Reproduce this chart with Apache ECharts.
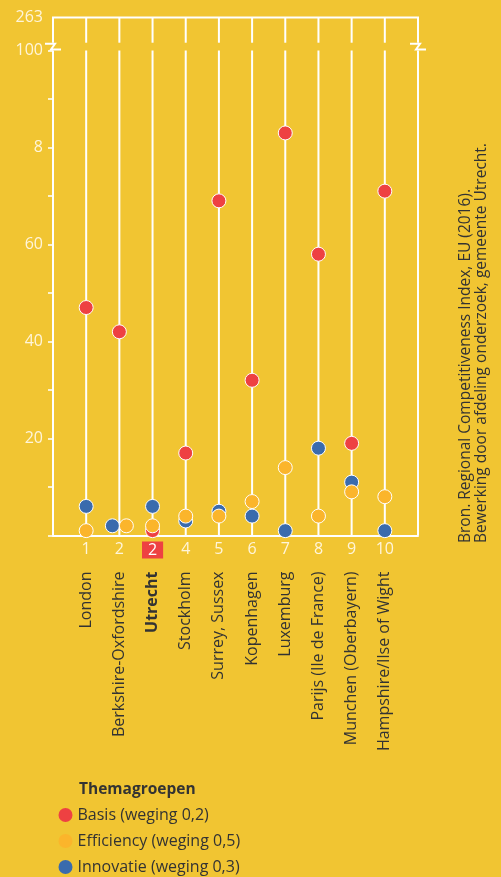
<!DOCTYPE html>
<html>
<head>
<meta charset="utf-8">
<script src="https://cdn.jsdelivr.net/npm/echarts@6/dist/echarts.min.js"></script>
<style>
html,body{margin:0;padding:0;background:#F1C532;}
#chart{width:501px;height:877px;}
</style>
</head>
<body>
<div id="chart"></div>
<script>
// ---- data ----
const categories = ['London', 'Berkshire-Oxfordshire', 'Utrecht', 'Stockholm', 'Surrey, Sussex', 'Kopenhagen', 'Luxemburg', 'Parijs (Ile de France)', 'Munchen (Oberbayern)', 'Hampshire/Ilse of Wight'];
const ranks = ['1', '2', '2', '4', '5', '6', '7', '8', '9', '10'];
const basis = [47, 42, 1, 17, 69, 32, 83, 58, 19, 71];
const efficiency = [1, 2, 2, 4, 4, 7, 14, 4, 9, 8];
const innovatie = [6, 2, 6, 3, 5, 4, 1, 18, 11, 1];
const seriesNames = ['Basis (weging 0,2)', 'Efficiency (weging 0,5)', 'Innovatie (weging 0,3)'];
const yLabelValues = [20, 40, 60, 80, 100];
const yLabelTexts = ['20', '40', '60', '8', '100'];
const yTopLabel = '263';
const sourceLines = ['Bron. Regional Competitiveness Index, EU (2016).', 'Bewerking door afdeling onderzoek, gemeente Utrecht.'];
const legendTitle = 'Themagroepen';

// ---- layout / style ----
const BG = '#F1C532';
const RED = '#EE4142';
const ORANGE = '#FBB52B';
const BLUE = '#3A6BAD';
const LABEL = '#FFF5DA';
const DARK = '#333333';
const FONT = '"Open Sans", sans-serif';
const Y_TOP = 106.8;      // axis position of the broken top value
const BREAK_LOW = 100;
const BREAK_HIGH = 101.6;
const X_MAX = categories.length + 1;
const highlight = categories.indexOf('Utrecht');
// horizontal dodge for overlapping markers (style only)
const dodge = { 1: { innovatie: -7, efficiency: 7 } };

const xs = categories.map((c, i) => i + 1);
const frameXs = Array.from({ length: categories.length + 2 }, (_, i) => i);

function points(arr, key) {
  return arr.map((v, i) => {
    const item = { value: [i + 1, v] };
    if (dodge[i] && dodge[i][key] !== undefined) item.symbolOffset = [dodge[i][key], 0];
    return item;
  });
}

const chart = echarts.init(document.getElementById('chart'));
const lineStyle = { stroke: '#fff', lineWidth: 2 };

const option = {
  backgroundColor: BG,
  animation: false,
  textStyle: { fontFamily: FONT },
  grid: { left: 53, right: 83, top: 17.5, bottom: 341.5 },
  title: {
    text: legendTitle, left: 79, top: 782,
    textStyle: { fontFamily: FONT, fontSize: 15.5, fontWeight: 'bold', color: DARK }, padding: 0
  },
  legend: {
    orient: 'vertical', left: 58.5, top: 805, height: 120, padding: 0,
    itemWidth: 14, itemHeight: 14, itemGap: 6, icon: 'circle',
    itemStyle: { borderWidth: 0 },
    data: seriesNames,
    textStyle: { fontFamily: FONT, fontSize: 16, color: DARK, lineHeight: 20 }
  },
  xAxis: [{
    type: 'value', min: 0, max: X_MAX, position: 'bottom',
    axisLine: { show: true, lineStyle: { color: '#fff', width: 2 } },
    axisTick: { show: false }, splitLine: { show: false },
    axisLabel: {
      customValues: xs, margin: 6, fontSize: 16, color: LABEL, fontFamily: FONT,
      formatter: v => (v - 1 === highlight ? '{hl|' + ranks[v - 1] + '}' : ranks[v - 1]),
      rich: { hl: { backgroundColor: RED, color: '#fff', fontSize: 16, padding: [1, 6, 0, 6], fontFamily: FONT } }
    }
  }, {
    type: 'value', min: 0, max: X_MAX, position: 'bottom',
    axisLine: { show: false }, axisTick: { show: false }, splitLine: { show: false },
    axisLabel: {
      customValues: xs, margin: 36, rotate: 90, fontSize: 16, color: DARK, fontFamily: FONT,
      formatter: v => (v - 1 === highlight ? '{b|' + categories[v - 1] + '}' : categories[v - 1]),
      rich: { b: { fontWeight: 'bold', fontSize: 16, color: DARK, fontFamily: FONT } }
    }
  }],
  yAxis: {
    type: 'value', min: 0, max: Y_TOP,
    axisLine: { show: false }, splitLine: { show: false },
    axisTick: { show: true, length: 5, customValues: [0, 10, 20, 30, 40, 50, 60, 70, 80, 90, 100], lineStyle: { color: '#fff', width: 1.5 } },
    axisLabel: {
      customValues: yLabelValues.concat([Y_TOP]), margin: 10, fontSize: 16, color: LABEL, fontFamily: FONT,
      formatter: v => {
        const k = yLabelValues.indexOf(v);
        return k >= 0 ? yLabelTexts[k] : yTopLabel;
      }
    }
  },
  graphic: [{
    type: 'text', x: 473.5, y: 543, rotation: Math.PI / 2,
    style: {
      text: sourceLines.join('\n'), fill: DARK, font: '15.5px ' + FONT,
      textAlign: 'left', textVerticalAlign: 'middle', lineHeight: 16
    }
  }],
  series: [{
    type: 'custom', name: 'frame', xAxisIndex: 0, clip: false, silent: true, z: 1,
    data: frameXs.map(x => [x]),
    renderItem: function (params, api) {
      const x = api.value(0);
      const p0 = api.coord([x, 0]);
      const p1 = api.coord([x, BREAK_LOW]);
      const p2 = api.coord([x, BREAK_HIGH]);
      const p3 = api.coord([x, Y_TOP]);
      const children = [
        { type: 'line', shape: { x1: p0[0], y1: p0[1], x2: p1[0], y2: p1[1] }, style: lineStyle },
        { type: 'line', shape: { x1: p2[0], y1: p2[1], x2: p3[0], y2: p3[1] }, style: lineStyle }
      ];
      if (x === 0 || x === X_MAX) {
        const cx = p1[0], yH = p2[1], yL = p1[1];
        children.push({
          type: 'polyline',
          shape: { points: [[cx - 8, yH + 1], [cx + 2, yH + 1], [cx - 2, yL - 1], [cx + 8, yL - 1]] },
          style: { stroke: '#fff', lineWidth: 2, fill: null }
        });
      }
      if (x === 0) {
        const q = api.coord([X_MAX, Y_TOP]);
        children.push({ type: 'line', shape: { x1: p3[0] - 1, y1: p3[1], x2: q[0] + 1, y2: q[1] }, style: lineStyle });
      }
      return { type: 'group', children: children };
    }
  }, {
    type: 'scatter', name: seriesNames[0], data: points(basis, 'basis'),
    symbolSize: 14, z: 3, itemStyle: { color: RED, borderColor: '#fff', borderWidth: 1, opacity: 1 }
  }, {
    type: 'scatter', name: seriesNames[2], data: points(innovatie, 'innovatie'),
    symbolSize: 14, z: 4, itemStyle: { color: BLUE, borderColor: '#fff', borderWidth: 1, opacity: 1 }
  }, {
    type: 'scatter', name: seriesNames[1], data: points(efficiency, 'efficiency'),
    symbolSize: 14, z: 5, itemStyle: { color: ORANGE, borderColor: '#fff', borderWidth: 1, opacity: 1 }
  }]
};
chart.setOption(option);
</script>
</body>
</html>
